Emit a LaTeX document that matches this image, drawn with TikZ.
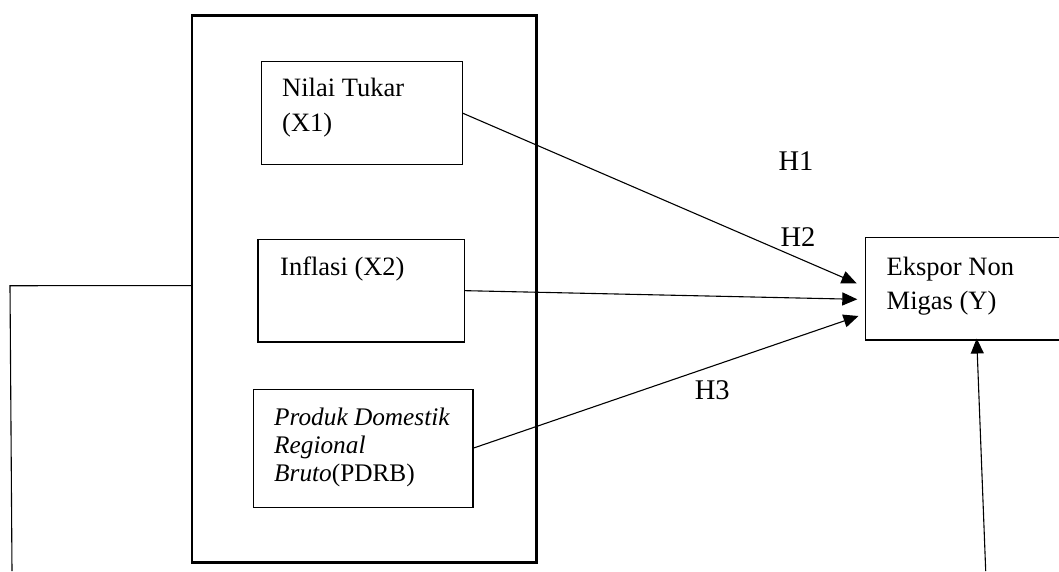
\documentclass[tikz,border=0pt]{standalone}
\usepackage{fontspec}
\setmainfont{Liberation Serif}
\usetikzlibrary{positioning}
\usetikzlibrary{arrows.meta}

\tikzset{
  box/.style={draw, rectangle, line width=1.6pt, inner sep=0pt, outer sep=0pt, anchor=north west},
  txt/.style={inner sep=0pt, anchor=base west, font=\fontsize{26.5}{33.5}\selectfont},
  smalltxt/.style={txt, font=\fontsize{25.3}{28.3}\selectfont},
  hyp/.style={inner sep=0pt, anchor=base west, font=\fontsize{28.5}{34}\selectfont},
  conn/.style={line width=1.1pt, -{Triangle[length=15pt,width=13pt]}}
}

\begin{document}
\begin{tikzpicture}[x=1pt,y=-1pt]
\clip (0,0) rectangle (1059,571);
% boxes
\node[box, line width=2.6pt, minimum width=344.6pt, minimum height=547.3pt] (outer) at (191.8,15.3) {};
\node[box, minimum width=200.8pt, minimum height=103pt] (nilai) at (261.5,61.5) {};
\node[box, minimum width=206.4pt, minimum height=102.7pt] (inflasi) at (258.2,239.3) {};
\node[box, minimum width=219.5pt, minimum height=118pt] (pdrb) at (253.3,389.3) {};
\node[box, minimum width=260pt, minimum height=102.7pt] (ekspor) at (865.6,237.5) {};
% texts
\node[txt] (nilai1) at (282,96.7) {Nilai Tukar};
\node[txt] (nilai2) at (282,131.5) {(X1)};
\node[txt] (inflasi1) at (280,275) {Inflasi (X2)};
\node[smalltxt] (pdrb1) at (274,425) {\textit{Produk Domestik}};
\node[smalltxt] (pdrb2) at (274,453.3) {\textit{Regional}};
\node[smalltxt] (pdrb3) at (274,481.6) {\textit{Bruto}(PDRB)};
\node[txt] (ekspor1) at (886.5,275) {Ekspor Non};
\node[txt] (ekspor2) at (886.5,309) {Migas (Y)};
\node[hyp] (h1) at (778.3,170) {H1};
\node[hyp] (h2) at (780.3,246) {H2};
\node[hyp] (h3) at (694.6,399.3) {H3};
% arrow ends
\coordinate (t1) at (856.6,283.3);
\coordinate (t2) at (857.3,299.3);
\coordinate (t3) at (858.5,316);
\coordinate (ybot) at (985.7,571);
\coordinate (ytop) at (976.7,338.5);
\coordinate (lt) at (10,285.7);
\coordinate (lb) at (12,571);
% connectors
\draw[conn] (nilai.east) -- (t1);
\draw[conn] (inflasi.east) -- (t2);
\draw[conn] (pdrb.east) -- (t3);
\draw[conn] (ybot) -- (ytop);
\draw[line width=1.1pt] ([yshift=3.3pt]outer.west) -- (lt) -- (lb);
\end{tikzpicture}
\end{document}
